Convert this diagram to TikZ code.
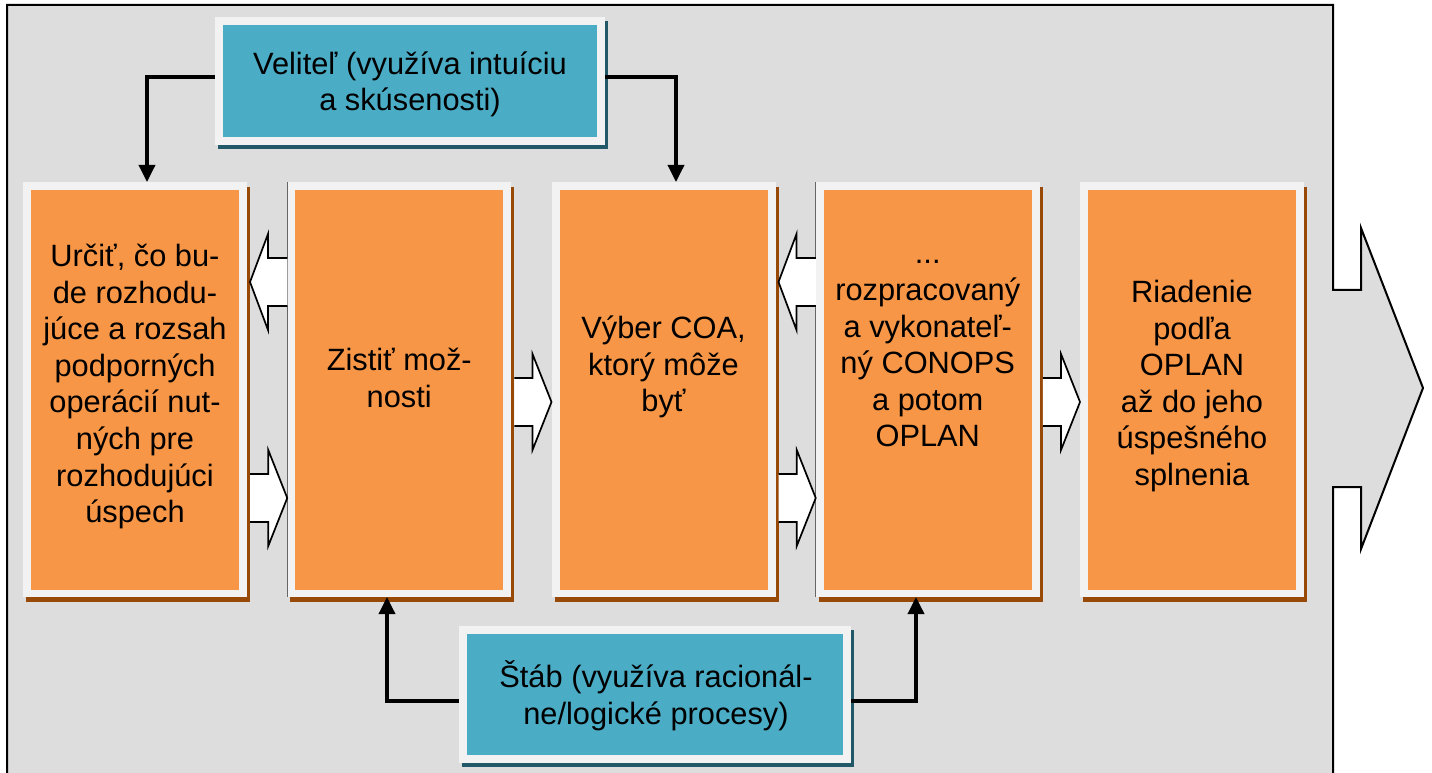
\documentclass[tikz,border=0pt]{standalone}
\usepackage{fontspec}
\setmainfont{Liberation Sans}
\usetikzlibrary{calc,arrows.meta,shadows}

\definecolor{panel}{HTML}{DDDDDD}
\definecolor{rim}{HTML}{F2F2F2}
\definecolor{orng}{HTML}{F79646}
\definecolor{rust}{HTML}{984807}
\definecolor{cyanfill}{HTML}{4BACC6}
\definecolor{tealshadow}{HTML}{215968}

% block arrow pointing right, from node #1 to node #2, centred at height #3
\newcommand\blockRight[3]{%
  \filldraw[blk] let \p1=(#1.east), \p2=(#2.west) in
    (\x1+3pt,#3pt+24pt) -- (\x2-19pt,#3pt+24pt) -- (\x2-19pt,#3pt+48pt) --
    (\x2,#3pt) -- (\x2-19pt,#3pt-48pt) -- (\x2-19pt,#3pt-24pt) -- (\x1+3pt,#3pt-24pt);}
% block arrow pointing left, from node #1 to node #2, centred at height #3
\newcommand\blockLeft[3]{%
  \filldraw[blk] let \p1=(#1.west), \p2=(#2.east) in
    (\x1,#3pt+24pt) -- (\x2+21pt,#3pt+24pt) -- (\x2+21pt,#3pt+48pt) --
    (\x2+3pt,#3pt) -- (\x2+21pt,#3pt-48pt) -- (\x2+21pt,#3pt-24pt) -- (\x1,#3pt-24pt);}

\begin{document}
\begin{tikzpicture}[x=1pt,y=1pt,
  frame/.style={fill=rim, draw=none, inner sep=0pt, outer sep=0pt},
  stepbox/.style={frame, minimum width=224pt, minimum height=415pt,
    general shadow={shadow xshift=3pt, shadow yshift=-5pt, fill=rust},
    path picture={\fill[orng]
      ([shift={(8pt,-8pt)}]path picture bounding box.north west) rectangle
      ([shift={(-8pt,7pt)}]path picture bounding box.south east);}},
  actorbox/.style={frame,
    general shadow={shadow xshift=3pt, shadow yshift=-4pt, fill=tealshadow},
    path picture={\fill[cyanfill]
      ([shift={(8pt,-8pt)}]path picture bounding box.north west) rectangle
      ([shift={(-8pt,8pt)}]path picture bounding box.south east);}},
  boxtxt/.style={align=center, inner sep=0pt, text=black,
    font=\fontsize{30.8}{36.6}\selectfont},
  conn/.style={line width=3.5pt, draw=black, line join=miter,
    -{Triangle[length=17pt,width=16pt]}},
  blk/.style={fill=white, draw=black, line width=1.7pt, line join=miter},
  edge line/.style={draw=gray!80!black, line width=1pt}
]
\useasboundingbox (0,0) rectangle (1432,772);
\clip (0,0) rectangle (1432,772);

% grey panel ending in a large arrow on the right
\filldraw[fill=panel, draw=black, line width=2pt, line join=miter]
  (7,767) -- (1333,767) -- (1333,482) -- (1361,482) -- (1361,544) --
  (1423,384) -- (1361,223) -- (1361,285) -- (1333,285) -- (1333,-10) --
  (7,-10) -- cycle;

% process steps
\node[stepbox] (b1) at (135,382.5) {};
\node[stepbox] (b2) at (399.25,382.5) {};
\node[stepbox] (b3) at (663.5,382.5) {};
\node[stepbox] (b4) at (927.75,382.5) {};
\node[stepbox] (b5) at (1192,382.5) {};
\draw[edge line] (b2.north west) -- (b2.south west);
\draw[edge line] (b4.north west) -- (b4.south west);

% commander and staff
\node[actorbox, minimum width=390pt, minimum height=128pt] (vel) at (410,691) {};
\node[actorbox, minimum width=392pt, minimum height=137pt] (stab) at (655,77.5) {};

% flow between the steps
\blockLeft{b2}{b1}{490}
\blockRight{b1}{b2}{274}
\blockRight{b2}{b3}{370}
\blockLeft{b4}{b3}{490}
\blockRight{b3}{b4}{274}
\blockRight{b4}{b5}{370}

% inputs from commander and staff
\draw[conn] ([yshift=4pt]vel.west) -| ([xshift=12pt]b1.north);
\draw[conn] ([yshift=4pt]vel.east) -| ([xshift=12.5pt]b3.north);
\draw[conn] ([yshift=-6.5pt]stab.west) -| ([xshift=-12.25pt]b2.south);
\draw[conn] ([yshift=-6.5pt]stab.east) -| ([xshift=-11.75pt]b4.south);

% texts
\node[boxtxt] (t1) at ([yshift=3pt]b1.center)
  {Určiť, čo bu-\\de rozhodu-\\júce a rozsah\\podporných\\operácií nut-\\ných pre\\rozhodujúci\\úspech};
\node[boxtxt] (t2) at ([yshift=11.5pt]b2.center) {Zistiť mož-\\nosti};
\node[boxtxt] (t3) at ([yshift=22.5pt]b3.center) {Výber COA,\\ktorý môže\\byť};
\node[boxtxt] (t4) at ([yshift=35.5pt]b4.center)
  {...\\rozpracovaný\\a vykonateľ-\\ný CONOPS\\a potom\\OPLAN};
\node[boxtxt] (t5) at ([yshift=3.5pt]b5.center)
  {Riadenie\\podľa\\OPLAN\\až do jeho\\úspešného\\splnenia};
\node[boxtxt] (tv) at (410,687.5) {Veliteľ (využíva intuíciu\\a skúsenosti)};
\node[boxtxt] (ts) at (656,76) {Štáb (využíva racionál-\\ne/logické procesy)};
\end{tikzpicture}
\end{document}
